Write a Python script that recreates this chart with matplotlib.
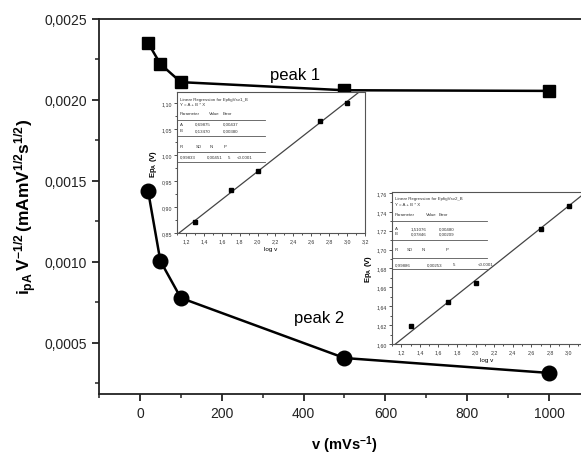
import matplotlib
matplotlib.use('Agg')
import matplotlib.pyplot as plt
from matplotlib.ticker import FuncFormatter, MultipleLocator

plt.rcParams['font.family'] = ['Liberation Sans', 'DejaVu Sans']
plt.rcParams['mathtext.fontset'] = 'custom'
plt.rcParams['mathtext.rm'] = 'Liberation Sans'
plt.rcParams['mathtext.bf'] = 'Liberation Sans:bold'

# main data
scan_rate = [20, 50, 100, 500, 1000]
peak1 = [0.002352, 0.002222, 0.00211, 0.00206, 0.002056]
peak2 = [0.001438, 0.001006, 0.000778, 0.000407, 0.000315]

# inset data (Ep vs log v)
log_v = [1.301, 1.699, 2.0, 2.699, 3.0]
ep1 = [0.872, 0.932, 0.970, 1.066, 1.099]
ep2 = [1.619, 1.645, 1.665, 1.722, 1.746]
fit1 = (0.69875, 0.13470)
fit2 = (1.51076, 0.07846)

table1 = ['Linear Regression for EpfigVsv1_B', 'Y = A + B * X',
          ('A', '0,69875', '0,00437'), ('B', '0,13470', '0,00380'),
          ('0,99833', '0,00451', '5', '<0.0001')]
table2 = ['Linear Regression for EpfigVsv2_B', 'Y = A + B * X',
          ('A', '1,51076', '0,00480'), ('B', '0,07846', '0,00209'),
          ('0,99886', '0,00253', '5', '<0.0001')]


def comma(fmt):
    return FuncFormatter(lambda v, p: (fmt % v).replace('.', ','))


fig = plt.figure(figsize=(5.81, 4.56), dpi=100)
ax = fig.add_axes([0.1704, 0.1338, 0.845, 0.8224])
ax.plot(scan_rate, peak1, 'k-', lw=1.8, marker='s', ms=8.5)
ax.plot(scan_rate, peak2, 'k-', lw=1.8, marker='o', ms=10.5)
ax.set_xlim(-100, 1100)
ax.set_ylim(0.000185, 0.0025)
ax.xaxis.set_major_locator(MultipleLocator(200))
ax.xaxis.set_minor_locator(MultipleLocator(100))
ax.yaxis.set_major_locator(MultipleLocator(0.0005))
ax.yaxis.set_minor_locator(MultipleLocator(0.00025))
ax.yaxis.set_major_formatter(comma('%.4f'))
ax.tick_params(which='major', direction='out', length=5, width=1.3, labelsize=10, colors='#222222')
ax.tick_params(which='minor', direction='out', length=3, width=1.1, colors='#222222')
for s in ax.spines.values():
    s.set_linewidth(1.3)
    s.set_color('#222222')
ax.set_xlabel(r'$\mathbf{v\ (mVs^{-1})}$', fontsize=10.5, labelpad=10)
ax.set_ylabel(r'$\mathbf{i_{pA}\,V^{-1/2}\,(mAmV^{1/2}s^{1/2})}$', fontsize=12.5, labelpad=4)
ax.text(380, 0.00216, 'peak 1', fontsize=12, ha='center', va='center')
ax.text(437, 0.00066, 'peak 2', fontsize=12, ha='center', va='center')


def inset(rect, xmax, x, y, fit, ylim, ystep, table, tpos):
    ia = fig.add_axes(rect)
    ia.set_facecolor('white')
    xs = [1.1, xmax]
    ia.plot(xs, [fit[0] + fit[1] * v for v in xs], color='#444444', lw=0.9)
    ia.plot(x, y, 'ks', ms=3.5)
    ia.set_xlim(1.1, xmax)
    ia.set_ylim(*ylim)
    ia.xaxis.set_major_locator(MultipleLocator(0.2))
    ia.xaxis.set_minor_locator(MultipleLocator(0.1))
    ia.yaxis.set_major_locator(MultipleLocator(ystep))
    ia.yaxis.set_minor_locator(MultipleLocator(ystep / 2))
    ia.xaxis.set_major_formatter(comma('%.1f'))
    ia.yaxis.set_major_formatter(comma('%.2f'))
    ia.tick_params(which='both', direction='out', length=2, width=0.6, labelsize=3.8, pad=1.5, colors='#333333')
    ia.tick_params(which='minor', length=1.2)
    for s in ia.spines.values():
        s.set_linewidth(0.8)
        s.set_color('#555555')
    ia.set_xlabel('log v', fontsize=4.5, labelpad=2)
    ia.set_ylabel(r'$\mathbf{Ep_A\ (V)}$', fontsize=5.5, labelpad=2)
    # regression table
    ys, cols, rcols, vcols, xe = tpos
    kw = dict(transform=ia.transAxes, fontsize=3.2, va='center', color='#333333')
    ia.text(0.015, ys[0], table[0], **kw)
    ia.text(0.015, ys[1], table[1], **kw)
    for t, cx in zip(['Parameter', 'Value', 'Error'], [0.015, cols[1], cols[2]]):
        ia.text(cx, ys[2], t, **kw)
    for row, yy in zip(table[2:4], ys[3:5]):
        for t, cx in zip(row, [0.015, cols[0], cols[2]]):
            ia.text(cx, yy, t, **kw)
    for t, cx in zip(['R', 'SD', 'N', 'P'], rcols):
        ia.text(cx, ys[5], t, **kw)
    for t, cx in zip(table[4], vcols):
        ia.text(cx, ys[6], t, **kw)
    for hy in ys[7:]:
        ia.plot([0, xe], [hy, hy], transform=ia.transAxes, color='#555555', lw=0.6)
    return ia


inset([0.3046, 0.4868, 0.3236, 0.3092], 3.2, log_v, ep1, fit1, (0.85, 1.121), 0.05, table1,
      ([0.95, 0.915, 0.851, 0.773, 0.73, 0.617, 0.539, 0.80, 0.688, 0.574, 0.504],
       [0.096, 0.17, 0.245], [0.015, 0.10, 0.176, 0.25], [0.015, 0.16, 0.27, 0.32], 0.468))
inset([0.6747, 0.2434, 0.3270, 0.3333], 3.145, log_v, ep2, fit2, (1.60, 1.761), 0.02, table2,
      ([0.96, 0.92, 0.855, 0.763, 0.73, 0.625, 0.526, 0.81, 0.684, 0.566, 0.493],
       [0.10, 0.18, 0.246], [0.015, 0.08, 0.154, 0.28], [0.015, 0.185, 0.32, 0.45], 0.50))

fig.savefig('out.png', dpi=100)
